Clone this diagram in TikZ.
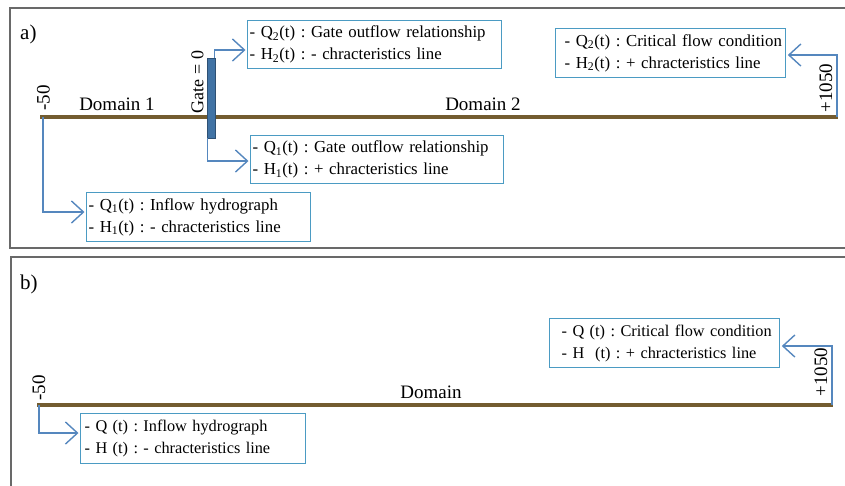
\documentclass[tikz,border=0pt]{standalone}
\usepackage{fontspec}
\setmainfont{Liberation Serif}
\usetikzlibrary{arrows.meta}
\definecolor{frm}{RGB}{105,105,105}
\definecolor{bx}{RGB}{75,155,195}
\definecolor{arr}{RGB}{85,135,190}
\definecolor{gatec}{RGB}{65,115,165}
\definecolor{riv}{RGB}{115,92,48}
\frenchspacing
\newcommand{\bxl}[2][0pt]{\mbox{\hspace*{#1}#2}}
\begin{document}
\begin{tikzpicture}[x=1pt,y=-1pt,
  infobox/.style={draw=bx, line width=1.3pt, anchor=north west, align=left,
    font=\fontsize{16.8}{22}\selectfont, inner ysep=2pt, inner xsep=2pt},
  infoboxb/.style={infobox, font=\fontsize{16.3}{22}\selectfont},
  lbl/.style={font=\fontsize{19}{21}\selectfont, inner sep=0pt},
  conn/.style={draw=arr, line width=1.4pt, shorten >=1.5pt,
    -{Straight Barb[length=12pt,width=22pt,line width=1.4pt]}},
  river/.style={draw=riv, line width=4pt},
  panel/.style={draw=frm, line width=2pt}]
\useasboundingbox (0,0) rectangle (845,485);
\clip (0,0) rectangle (845,485);
% panels
\draw[panel] (10,8) rectangle (860,248);
\draw[panel] (11,257) rectangle (860,500);
\node[lbl, font=\fontsize{21}{23}\selectfont, anchor=west] (la) at (20,34) {a)};
\node[lbl, font=\fontsize{21}{23}\selectfont, anchor=west] (lb) at (20,284) {b)};
% ---------- panel a ----------
\coordinate (a0) at (40,117);
\coordinate (a1) at (838,117);
\draw[river] (a0) -- (a1);
\node[draw=gatec!70!black, fill=gatec, line width=0.6pt, minimum width=8pt,
  minimum height=80pt, inner sep=0pt] (gate) at (211,98) {};
\node[lbl, font=\fontsize{18}{20}\selectfont, rotate=90] (g0) at (197.5,82) {Gate = 0};
\node[lbl, rotate=90] (m50a) at (43.5,98) {-50};
\node[lbl, rotate=90] (p1050a) at (826,88) {+1050};
\node[lbl] (d1) at (117,104) {Domain 1};
\node[lbl] (d2) at (483,104) {Domain 2};
\node[infobox, text width=250pt, minimum height=48pt] (b1) at (247,20)
  {\bxl{- Q\textsubscript{2}(t) : Gate outflow relationship}\\\bxl{- H\textsubscript{2}(t) : - chracteristics line}};
\node[infobox, text width=249pt, minimum height=48pt] (b2) at (250,135)
  {\bxl{- Q\textsubscript{1}(t) : Gate outflow relationship}\\\bxl{- H\textsubscript{1}(t) : + chracteristics line}};
\node[infobox, text width=220pt, minimum height=49pt] (b3) at (86,192)
  {\bxl{- Q\textsubscript{1}(t) : Inflow hydrograph}\\\bxl{- H\textsubscript{1}(t) : - chracteristics line}};
\node[infobox, text width=226pt, minimum height=49pt] (b4) at (555,28)
  {\bxl[7pt]{- Q\textsubscript{2}(t) : Critical flow condition}\\\bxl[7pt]{- H\textsubscript{2}(t) : + chracteristics line}};
\coordinate (y1) at (0,50);
\coordinate (y2) at (0,161);
\coordinate (y3) at (0,212);
\coordinate (y4) at (0,55);
\coordinate (gtop) at ([xshift=-1pt]gate.north east);
\coordinate (gbot) at ([xshift=0.5pt]gate.south west);
\draw[conn] (gtop) |- (b1.west |- y1);
\draw[conn] (gbot) |- (b2.west |- y2);
\draw[conn] ([xshift=3pt]a0) |- (b3.west |- y3);
\draw[conn] ([xshift=-1pt]a1) |- (b4.east |- y4);
% ---------- panel b ----------
\coordinate (b0) at (37,405);
\coordinate (bE) at (833,405);
\draw[river] (b0) -- (bE);
\node[lbl, rotate=90] (m50b) at (39,388) {-50};
\node[lbl, rotate=90] (p1050b) at (821,372) {+1050};
\node[lbl] (dm) at (431,392) {Domain};
\node[infoboxb, text width=221pt, minimum height=50pt] (b5) at (80,413)
  {\bxl[2pt]{- Q (t) : Inflow hydrograph}\\\bxl[2pt]{- H (t) : - chracteristics line}};
\node[infoboxb, text width=226pt, minimum height=49pt] (b6) at (549,318)
  {\bxl[10pt]{- Q (t) : Critical flow condition}\\\bxl[10pt]{- H~~(t) : + chracteristics line}};
\coordinate (y5) at (0,433);
\coordinate (y6) at (0,346);
\draw[conn] ([xshift=2pt]b0) |- (b5.west |- y5);
\draw[conn] ([xshift=-1pt]bE) |- (b6.east |- y6);
\end{tikzpicture}
\end{document}
